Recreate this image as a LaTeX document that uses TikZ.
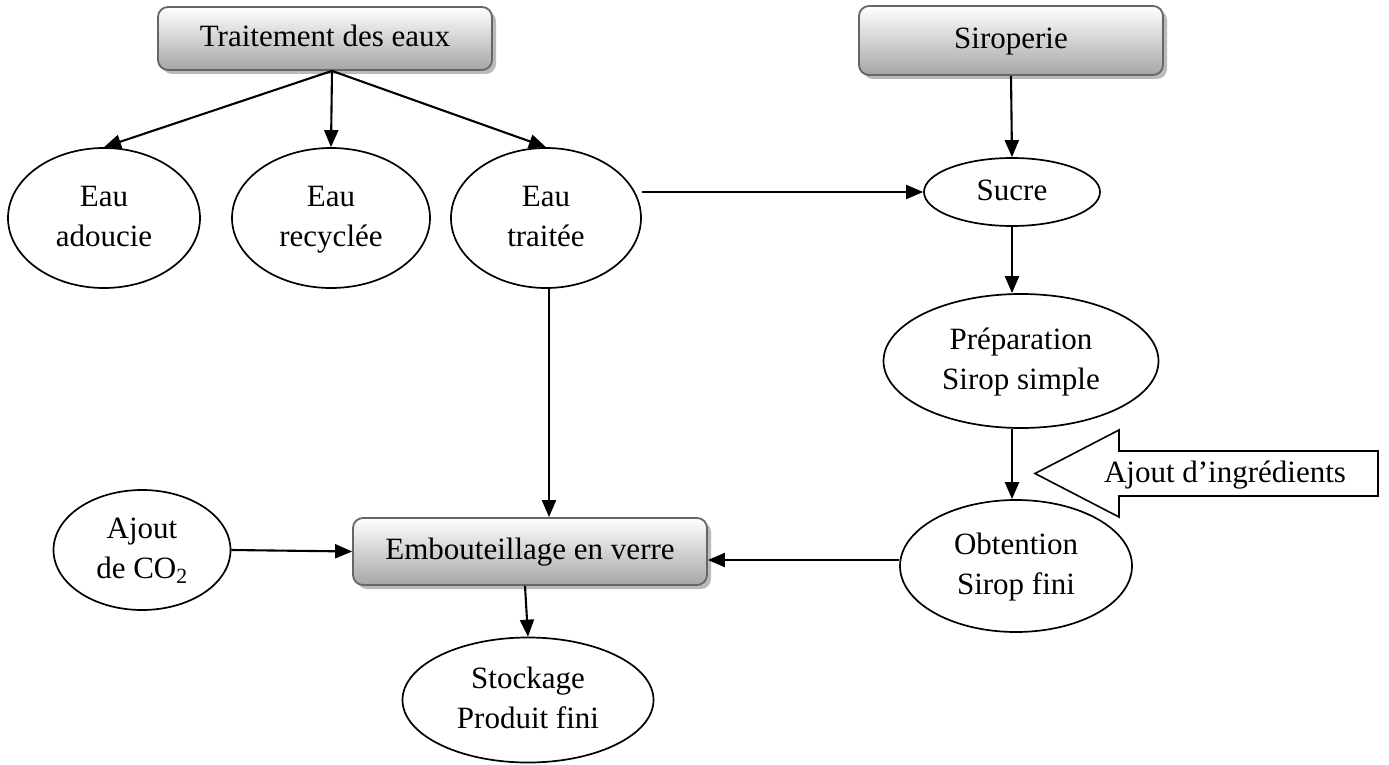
\documentclass[tikz,border=0pt]{standalone}
\usepackage{fontspec}
\setmainfont{Liberation Serif}
\usetikzlibrary{arrows.meta,shapes.geometric,shadows}
\newcommand{\lns}[2]{\strut #1\\#2\strut}
\begin{document}
\begin{tikzpicture}[x=1pt,y=-1pt,
  every node/.style={font=\fontsize{31}{40}\selectfont, align=center},
  box/.style={rectangle, rounded corners=10pt, draw=black!60, line width=1.8pt,
    top color=white, bottom color=black!35,
    drop shadow={shadow xshift=4pt, shadow yshift=-4pt, fill=black!45, opacity=0.6},
    inner sep=0pt},
  oval/.style={ellipse, draw=black, line width=1.7pt, inner sep=0pt},
  arr/.style={line width=2.1pt, -{Triangle[length=17pt,width=14pt]}},
  blockarrow/.style={draw=black, line width=1.6pt, fill=white}]
\useasboundingbox (0,0) rectangle (1389,765);

% boxes
\node[box, minimum width=334pt, minimum height=63pt] (trait) at (325,38.5) {\strut Traitement des eaux};
\node[box, minimum width=304pt, minimum height=69pt] (sirop) at (1011,40.5) {\strut Siroperie};
\node[box, minimum width=354pt, minimum height=67pt] (emb) at (530,551.5) {\strut Embouteillage en verre};

% ellipses
\node[oval, minimum width=192pt, minimum height=140pt] (adoucie) at (104,218) {\lns{Eau}{adoucie}};
\node[oval, minimum width=198pt, minimum height=140pt] (recyclee) at (331,218) {\lns{Eau}{recyclée}};
\node[oval, minimum width=190pt, minimum height=140pt] (traitee) at (546,218) {\lns{Eau}{traitée}};
\node[oval, minimum width=176pt, minimum height=68pt] (sucre) at (1012,192) {\strut Sucre};
\node[oval, minimum width=275pt, minimum height=134pt] (prep) at (1021,361) {\lns{Préparation}{Sirop simple}};
\node[oval, minimum width=232pt, minimum height=132pt] (obt) at (1016,566) {\lns{Obtention}{Sirop fini}};
\node[oval, minimum width=177pt, minimum height=120pt] (co2) at (142,550) {\lns{Ajout}{de CO\textsubscript{2}}};
\node[oval, minimum width=251pt, minimum height=125pt] (stock) at (528,700) {\lns{Stockage}{Produit fini}};

% block arrow "Ajout d'ingredients"
\draw[blockarrow] (1035,473.5) -- (1119,430) -- (1119,451) -- (1378,451) -- (1378,496)
  -- (1119,496) -- (1119,517) -- cycle;
\node (ingr) at (1225,474) {\strut Ajout d’ingrédients};

% connectors
\coordinate (tsrc) at ([xshift=7pt]trait.south);
\draw[arr] (tsrc) -- (adoucie.north);
\draw[arr] (tsrc) -- (recyclee.north);
\draw[arr] (tsrc) -- (traitee.north);
\draw[arr] (sirop.south) -- (sucre.north);
\draw[arr] (traitee.east |- sucre.west) -- (sucre.west);
\draw[arr] (sucre.south) -- (sucre.south |- prep.north);
\draw[arr] (sucre.south |- prep.south) -- (sucre.south |- obt.north);
\coordinate (tb) at ([xshift=3pt]traitee.south);
\draw[arr] (tb) -- (tb |- emb.north);
\draw[arr] (co2.east) -- (emb.west);
\coordinate (oe) at ([yshift=6pt]obt.west);
\draw[arr] (oe) -- (oe -| emb.east);
\draw[arr] ([xshift=-5pt]emb.south) -- (stock.north);
\end{tikzpicture}
\end{document}
